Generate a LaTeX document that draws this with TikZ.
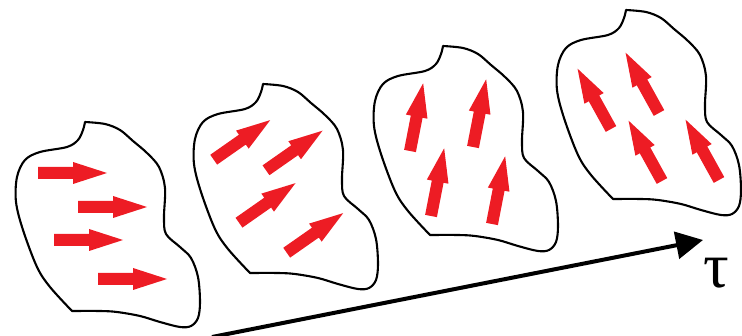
\documentclass[tikz,border=0pt]{standalone}
\usepackage{fontspec}
\setmainfont{Liberation Serif}
\usetikzlibrary{arrows.meta}
\definecolor{spinred}{HTML}{ED1C24}
\tikzset{
  spin/.pic={\fill[spinred] (0,6) -- (35,6) -- (35,11) -- (69,0) -- (35,-11) -- (35,-6) -- (0,-6) -- cycle;},
  grain/.pic={\draw[line width=2.1pt, line join=round]
     plot[smooth, tension=0.55] coordinates {(0,0) (20,2) (35,8) (48,19) (62,31) (74,45) (80,66) (79,95) (81,112) (95,125) (106,136) (113,155) (115,180) (113,196) (106,204) (95,205) (75,200) (55,194) (32,190) (15,189) (-13,189)}
     -- plot[smooth, tension=0.55] coordinates {(-13,189) (-35,165) (-48,145) (-62,108) (-69,80) (-68,55) (-60,38) (-45,30) (-18,25) (-7,18) (-2,8) (0,0)} -- cycle;},
  timeaxis/.style={line width=4pt, -{Triangle[length=27pt,width=27pt]}}
}
\begin{document}
\begin{tikzpicture}[x=1pt,y=-1pt]
\useasboundingbox (0,0) rectangle (742,336);
% grains
\pic at (85,122) {grain};
\pic at (263,84) {grain};
\pic at (443,46) {grain};
\pic at (626,10) {grain};
% blob 1 arrows
\pic at (38,173) {spin};
\pic at (78,207) {spin};
\pic at (54,240) {spin};
\pic at (98,279) {spin};
% blob 2 arrows
\pic[rotate=35] at (213.7,159.7) {spin};
\pic[rotate=35] at (266,170.3) {spin};
\pic[rotate=35] at (239,222.7) {spin};
\pic[rotate=35] at (286.7,252.7) {spin};
% blob 3 arrows
\pic[rotate=79] at (410,151) {spin};
\pic[rotate=79] at (473,147) {spin};
\pic[rotate=79] at (431,216) {spin};
\pic[rotate=79] at (492,224) {spin};
% blob 4 arrows
\pic[rotate=119] at (611,129) {spin};
\pic[rotate=119] at (659,113) {spin};
\pic[rotate=119] at (662,181) {spin};
\pic[rotate=119] at (719,180) {spin};
% time axis
\coordinate (tstart) at (212,337);
\coordinate (tend) at (703,240);
\draw[timeaxis] (tstart) -- (tend);
\node[inner sep=0pt, font=\fontsize{64}{64}\selectfont] (tau) at (716,273) {τ};
\end{tikzpicture}
\end{document}
